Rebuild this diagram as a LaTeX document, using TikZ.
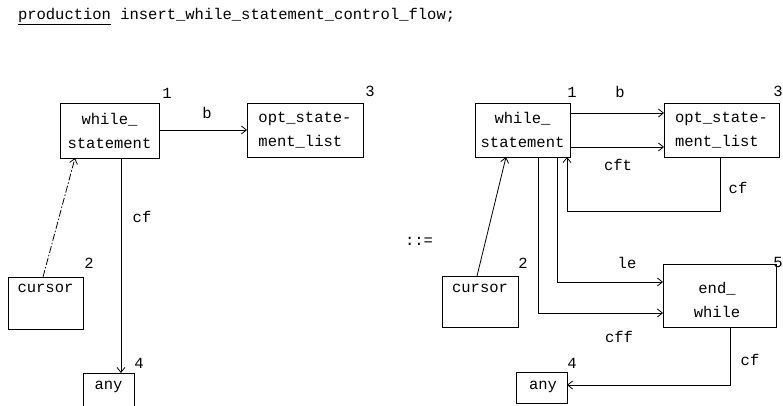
\documentclass[tikz,border=0pt]{standalone}
\usepackage{fontspec}
\setmonofont{Liberation Mono}
\usetikzlibrary{arrows.meta}
\begin{document}
\begin{tikzpicture}[x=1pt,y=-1pt,
  font=\ttfamily\fontsize{15.5}{24}\selectfont,
  every node/.style={inner sep=0pt,outer sep=0pt},
  box/.style={draw,line width=0.8pt,anchor=north west},
  txt/.style={align=center},
  lbl/.style={},
  conn/.style={line width=0.8pt,-{Straight Barb[length=5pt,width=8pt]}},
  dconn/.style={conn,dash pattern=on 7pt off 2pt on 1.5pt off 2pt}]
\useasboundingbox (0,0) rectangle (783,406);
% title
\node[anchor=base west] (title) at (18,20) {\underline{production} insert\_while\_statement\_control\_flow;};
% ---------------- left side
\node[box,minimum width=99pt,minimum height=55pt,txt] (lw) at (60,103) {while\_\\statement};
\node[box,minimum width=116pt,minimum height=54pt,align=left] (lo) at (247,103) {opt\_state-\\ment\_list};
\node[box,minimum width=75pt,minimum height=52pt] (lc) at (8,277) {};
\node (lct) at (45.5,288) {cursor};
\node[box,minimum width=51pt,minimum height=40pt] (la) at (83,373) {};
\node (lat) at (108.5,387) {any};
\node[lbl] (l1) at (167,93) {1};
\node[lbl] (l3) at (370,91) {3};
\node[lbl] (lb) at (207,113) {b};
\node[lbl] (lcf) at (142,217) {cf};
\node[lbl] (l2) at (89,263) {2};
\node[lbl] (l4) at (139,363) {4};
\draw[conn] (lw.east |- 0,130) -- (lo.west |- 0,130);
\draw[conn] (lw.south -| 121,0) -- (la.north -| 121,0);
\draw[dconn] (lc.north -| 43,0) -- (lw.south -| 75,0);
% ---------------- right side
\node (def) at (419,241) {::=};
\node[box,minimum width=95pt,minimum height=54pt,txt] (rw) at (475,103) {while\_\\statement};
\node[box,minimum width=115pt,minimum height=54pt,align=left] (ro) at (664,103) {opt\_state-\\ment\_list};
\node[box,minimum width=76pt,minimum height=51pt] (rc) at (442,276) {};
\node (rct) at (480,288) {cursor};
\node[box,minimum width=113pt,minimum height=63pt] (re) at (663,264) {};
\node[txt] (ret) at (717,300) {end\_\\while};
\node[box,minimum width=51pt,minimum height=31pt] (ra) at (516,372) {};
\node (rat) at (543,387) {any};
\node[lbl] (r1) at (572,92) {1};
\node[lbl] (rb) at (620,92) {b};
\node[lbl] (r3) at (778,91) {3};
\node[lbl] (r5) at (778,262) {5};
\node[lbl] (rcft) at (618,165) {cft};
\node[lbl] (rcf) at (738,188) {cf};
\node[lbl] (r2) at (523,263) {2};
\node[lbl] (rle) at (627,263) {le};
\node[lbl] (rcff) at (619,337) {cff};
\node[lbl] (rcf2) at (750,360) {cf};
\node[lbl] (r4) at (572,363) {4};
\draw[conn] (rw.east |- 0,113) -- (ro.west |- 0,113);
\draw[conn] (rw.east |- 0,147) -- (ro.west |- 0,147);
\draw[conn] (ro.south -| 720,0) -- (720,211) -- (567,211) -- (rw.south -| 567,0);
\draw[conn] (rw.south -| 557,0) -- (557,282) -- (re.west |- 0,282);
\draw[conn] (rw.south -| 538,0) -- (538,313) -- (re.west |- 0,313);
\draw[conn] (re.south -| 730,0) -- (730,385) -- (ra.east |- 0,385);
\draw[conn] (rc.north -| 477,0) -- (rw.south -| 506,0);
\end{tikzpicture}
\end{document}
